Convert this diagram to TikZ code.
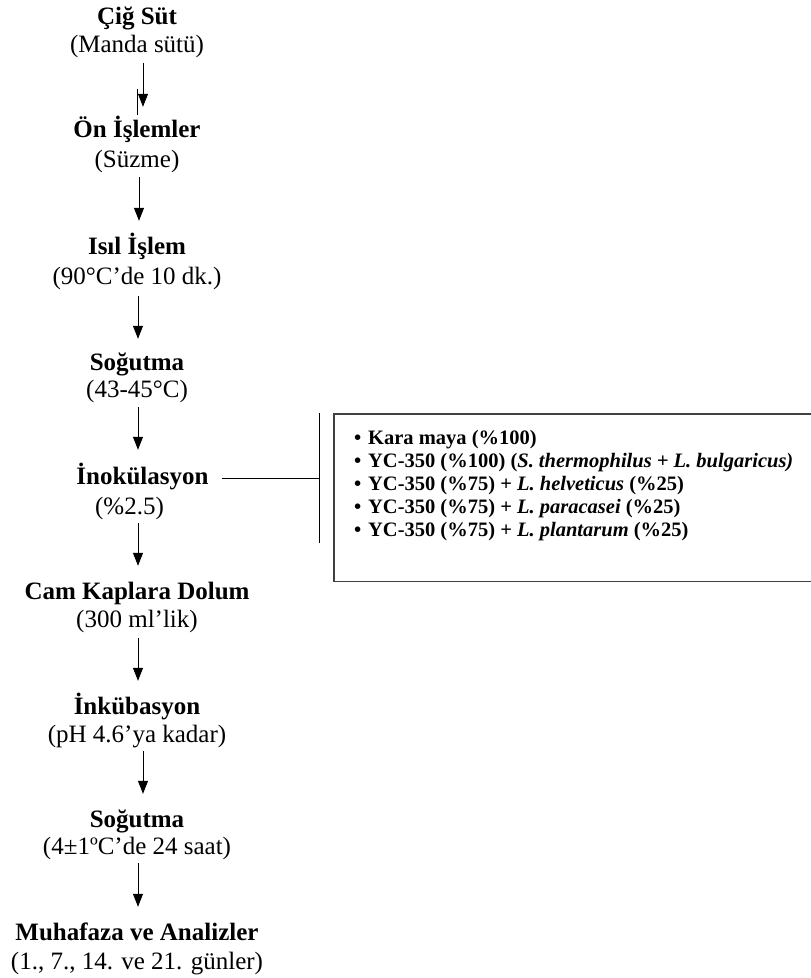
\documentclass[tikz,border=0pt]{standalone}
\usepackage{fontspec}
\setmainfont{Liberation Serif}
\usetikzlibrary{arrows.meta}
\begin{document}
\begin{tikzpicture}[x=1pt,y=-1pt,
  ttl/.style={font=\fontsize{25}{28}\selectfont\bfseries, inner sep=0pt, text height=18pt, text depth=6pt, anchor=base},
  sub/.style={font=\fontsize{25}{28}\selectfont, inner sep=0pt, text height=18pt, text depth=6pt, anchor=base},
  arr/.style={-{Triangle[length=13pt,width=10pt]}, line width=1pt},
  conn/.style={line width=1pt},
  boxline/.style={line width=1.4pt, draw=black!75},
  item/.style={font=\fontsize{20.5}{23}\selectfont\bfseries, inner sep=0pt, anchor=base west}]
\useasboundingbox (0,0) rectangle (811,978);
% steps
\node[ttl] (t1) at (137,24) {Çiğ Süt};
\node[sub] (s1) at (137,52) {(Manda sütü)};
\node[ttl] (t2) at (137,137) {Ön İşlemler};
\node[sub] (s2) at (137,167) {(Süzme)};
\node[ttl] (t3) at (137,254) {Isıl İşlem};
\node[sub] (s3) at (137,284) {(90°C’de 10 dk.)};
\node[ttl] (t4) at (137,370) {Soğutma};
\node[sub] (s4) at (137,397) {(43-45°C)};
\node[ttl] (t5) at (142.5,484) {İnokülasyon};
\node[sub] (s5) at (129.5,514) {(\%2.5)};
\node[ttl] (t6) at (137,599) {Cam Kaplara Dolum};
\node[sub] (s6) at (137,627) {(300 ml’lik)};
\node[ttl] (t7) at (137,714) {İnkübasyon};
\node[sub] (s7) at (137,742) {(pH 4.6’ya kadar)};
\node[ttl] (t8) at (137,827) {Soğutma};
\node[sub] (s8) at (137,854) {(4±1ºC’de 24 saat)};
\node[ttl] (t9) at (137,940) {Muhafaza ve Analizler};
\node[sub] (s9) at (137,969) {(1., 7., 14. ve 21. günler)};
% arrows
\draw[arr] ([shift={(6,5)}]s1.south) -- ([shift={(6,-12)}]t2.north);
\draw[conn] (137,89) -- (137,115);
\draw[arr] ([shift={(2,4)}]s2.south) -- ([shift={(2,-15)}]t3.north);
\draw[arr] ([shift={(1,6)}]s3.south) -- ([shift={(1,-13)}]t4.north);
\draw[arr] ([shift={(1,4)}]s4.south) -- ([shift={(-4.5,-16)}]t5.north);
\draw[arr] ([shift={(8.5,3)}]s5.south) -- ([shift={(1,-15)}]t6.north);
\draw[arr] ([shift={(1,5)}]s6.south) -- ([shift={(1,-15)}]t7.north);
\draw[arr] ([shift={(6,3)}]s7.south) -- ([shift={(6,-15)}]t8.north);
\draw[arr] ([shift={(1,3)}]s8.south) -- ([shift={(1,-15)}]t9.north);
% side branch
\coordinate (vt) at (319,413);
\coordinate (vb) at (319,543);
\draw[conn] (vt) -- (vb);
\draw[conn] ([xshift=13pt]t5.east) -- (t5.east -| vt);
% box
\node[minimum width=477pt, minimum height=167pt, inner sep=0pt, anchor=north west] (box) at (334,414) {};
\draw[boxline] (box.north east) -- (box.north west) -- (box.south west) -- (box.south east);
\node[item] (i1) at (354,444) {\makebox[14pt][l]{•}Kara maya (\%100)};
\node[item] (i2) at (354,467) {\makebox[14pt][l]{•}YC-350 (\%100) (\textit{S. thermophilus + L. bulgaricus)}};
\node[item] (i3) at (354,490) {\makebox[14pt][l]{•}YC-350 (\%75) + \textit{L. helveticus} (\%25)};
\node[item] (i4) at (354,513) {\makebox[14pt][l]{•}YC-350 (\%75) + \textit{L. paracasei} (\%25)};
\node[item] (i5) at (354,536) {\makebox[14pt][l]{•}YC-350 (\%75) + \textit{L. plantarum} (\%25)};
\end{tikzpicture}
\end{document}
